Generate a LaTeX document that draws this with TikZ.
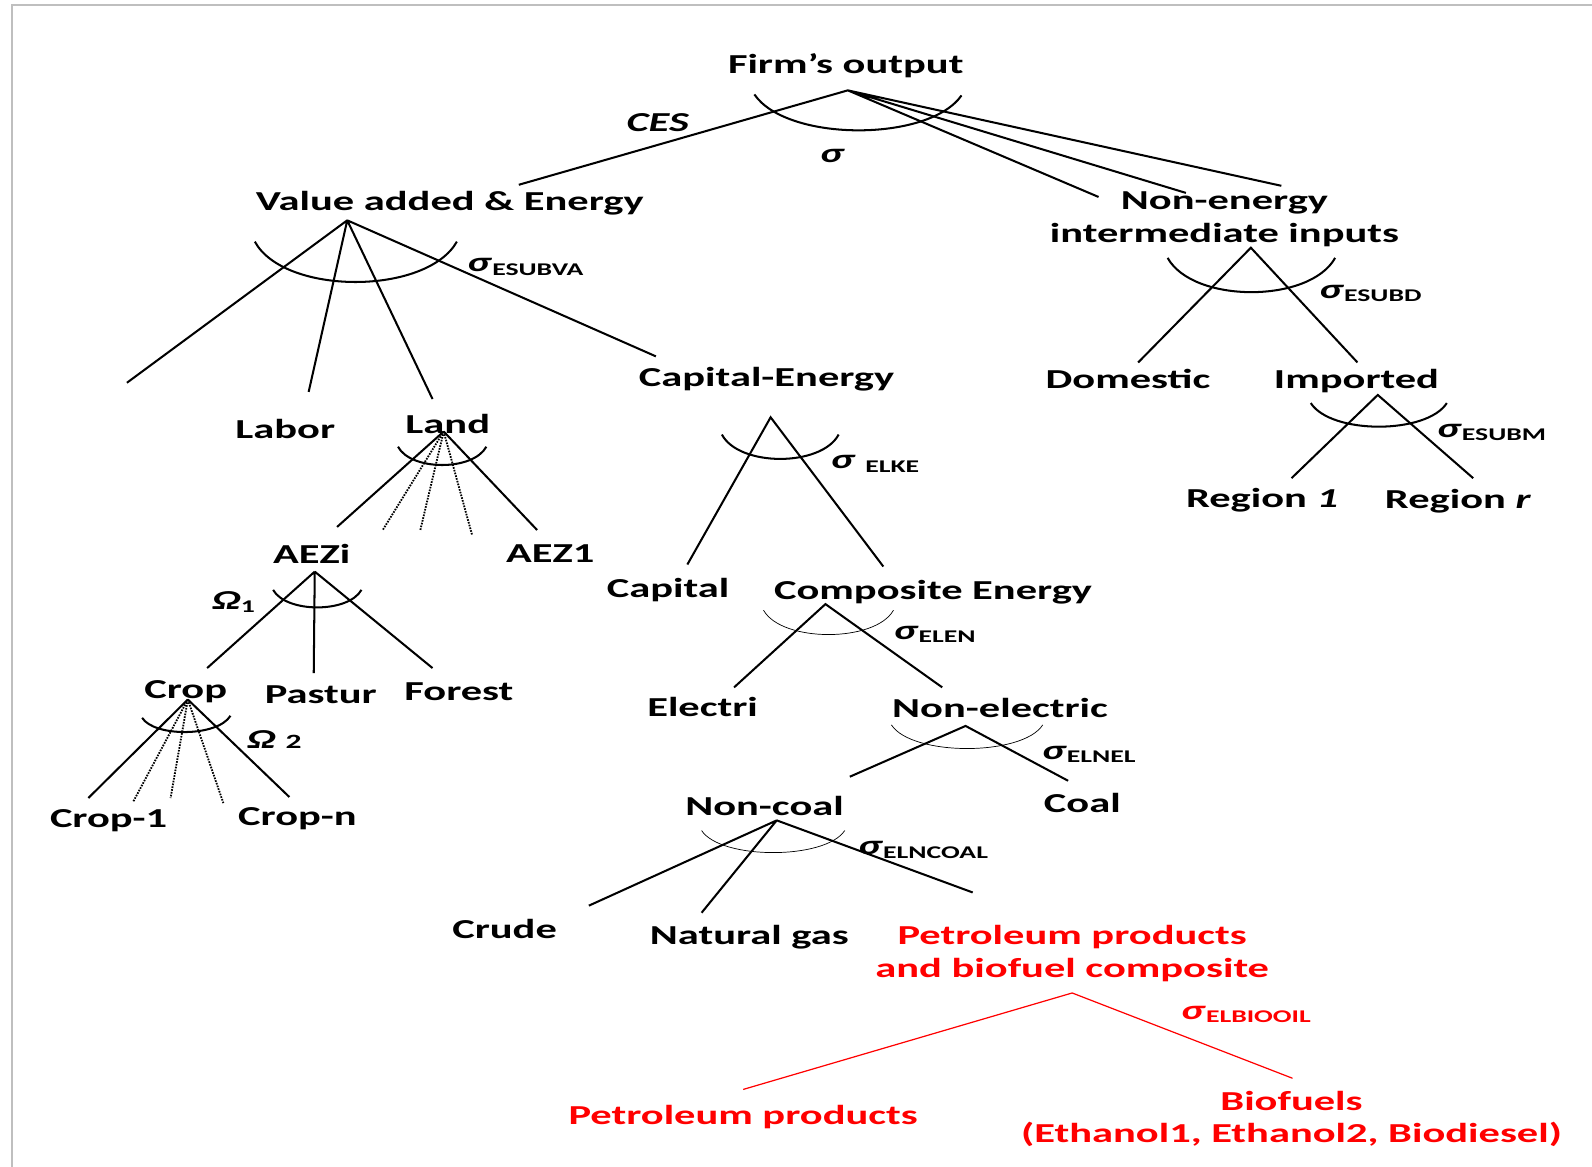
\documentclass[tikz,border=0pt]{standalone}
\usepackage{fontspec}
\setmainfont{Carlito}[FakeStretch=1.55]
\usetikzlibrary{positioning,calc}

\tikzset{
    lbl/.style={font=\bfseries\fontsize{13.5}{16}\selectfont, inner sep=0pt, align=center, yshift=-1pt},
    redlbl/.style={lbl, text=red},
    sublbl/.style={lbl, anchor=west},
    branch/.style={line width=1pt},
    dotbranch/.style={line width=0.9pt, dash pattern=on 0.8pt off 0.6pt},
    thinarc/.style={line width=0.35pt},
    redbranch/.style={line width=0.6pt, red},
}
\newcommand{\elsub}[1]{\raisebox{-0.12em}{\fontsize{8.8}{10}\selectfont #1}}
\newcommand{\elas}[1]{\textit{σ}\elsub{#1}}

\begin{document}
\begin{tikzpicture}[x=0.5pt,y=-0.5pt]
    \useasboundingbox (0,0) rectangle (1568,1149);
    \draw[line width=0.75pt, black!25] (12,1149) -- (12,5) -- (1568,5); % frame

    % Firm's output
    \node[lbl] (firm) at (833,63) {Firm’s output};
    \node[lbl] (ces) at (648,119) {\textit{CES}};
    \node[lbl] (sigtop) at (820,152) {\textit{σ}};
    \coordinate (firm-top) at (835,89);
    \coordinate (firm-1) at (511,182);
    \coordinate (firm-2) at (1082,194);
    \coordinate (firm-3) at (1168,190);
    \coordinate (firm-4) at (1262,183);
    \draw[branch] (firm-1) -- (firm-top) -- (firm-2) (firm-top) -- (firm-3) (firm-top) -- (firm-4);
    \draw[branch] (743,93) .. controls (775,140) and (915,140) .. (947,94);

    % Value added & Energy
    \node[lbl] (va) at (443,198) {Value added \& Energy};
    \node[sublbl] (sva) at (460,261) {\elas{ESUBVA}};
    \coordinate (va-top) at (342,217);
    \coordinate (va-1) at (125,377);
    \coordinate (va-2) at (304,386);
    \coordinate (va-3) at (426,393);
    \coordinate (va-4) at (646,351);
    \draw[branch] (va-top) -- (va-1) (va-top) -- (va-2) (va-top) -- (va-3) (va-top) -- (va-4);
    \draw[branch] (251,238) .. controls (280,291) and (420,291) .. (450,238);

    \node[lbl] (labor) at (281,421) {Labor};
    \node[lbl] (land) at (441,416) {Land};

    % Land
    \coordinate (land-top) at (437,425);
    \coordinate (land-1) at (332,519);
    \coordinate (land-2) at (377,522);
    \coordinate (land-3) at (414,522);
    \coordinate (land-4) at (465,527);
    \coordinate (land-5) at (529,522);
    \draw[branch] (land-top) -- (land-1) (land-top) -- (land-5);
    \draw[dotbranch] (land-top) -- (land-2) (land-top) -- (land-3) (land-top) -- (land-4);
    \draw[branch] (392,440) .. controls (405,464) and (466,464) .. (479,440);

    \node[lbl] (aezi) at (307,544) {AEZi};
    \node[lbl] (aez1) at (542,543) {AEZ1};

    % AEZi
    \node[lbl] (om1) at (230,591) {\textit{Ω}\elsub{1}};
    \coordinate (aez-top) at (310,563);
    \coordinate (aez-1) at (204,658);
    \coordinate (aez-2) at (309,663);
    \coordinate (aez-3) at (426,658);
    \draw[branch] (aez-top) -- (aez-1) (aez-top) -- (aez-2) (aez-top) -- (aez-3);
    \draw[branch] (269,581) .. controls (282,604) and (343,604) .. (356,581);

    \node[lbl] (crop) at (183,679) {Crop};
    \node[lbl] (pastur) at (316,682) {Pastur};
    \node[lbl] (forest) at (452,679) {Forest};

    % Crop
    \node[sublbl] (om2) at (243,726) {\textit{Ω} \fontsize{10}{12}\selectfont 2};
    \coordinate (crop-top) at (185,689);
    \coordinate (crop-1) at (87,786);
    \coordinate (crop-2) at (131,790);
    \coordinate (crop-3) at (168,786);
    \coordinate (crop-4) at (220,791);
    \coordinate (crop-5) at (285,785);
    \draw[branch] (crop-top) -- (crop-1) (crop-top) -- (crop-5);
    \draw[dotbranch] (crop-top) -- (crop-2) (crop-top) -- (crop-3) (crop-top) -- (crop-4);
    \draw[branch] (140,707) .. controls (152,726) and (214,726) .. (227,705);

    \node[lbl] (crop1) at (107,806) {Crop-1};
    \node[lbl] (cropn) at (293,804) {Crop-n};

    % Capital-Energy
    \node[lbl] (cape) at (755,371) {Capital-Energy};
    \node[sublbl] (selke) at (818,455) {\textit{σ} \elsub{ELKE}};
    \coordinate (cape-top) at (759,411);
    \coordinate (cape-1) at (677,556);
    \coordinate (cape-2) at (870,558);
    \draw[branch] (cape-1) -- (cape-top) -- (cape-2);
    \draw[branch] (711,428) .. controls (728,460) and (809,460) .. (826,428);

    \node[lbl] (capital) at (658,579) {Capital};
    \node[lbl] (compe) at (919,581) {Composite Energy};

    % Composite Energy
    \node[sublbl] (selen) at (880,623) {\elas{ELEN}};
    \coordinate (comp-top) at (813,595);
    \coordinate (comp-1) at (723,677);
    \coordinate (comp-2) at (928,677);
    \draw[branch] (comp-1) -- (comp-top) -- (comp-2);
    \draw[thinarc] (752,601) .. controls (770,633) and (862,633) .. (880,601);

    \node[lbl] (electri) at (692,694) {Electri};
    \node[lbl] (nonel) at (985,695) {Non-electric};

    % Non-electric
    \node[sublbl] (selnel) at (1026,741) {\elas{ELNEL}};
    \coordinate (nonel-top) at (951,715);
    \coordinate (nonel-1) at (837,765);
    \coordinate (nonel-2) at (1052,769);
    \draw[branch] (nonel-1) -- (nonel-top) -- (nonel-2);
    \draw[thinarc] (878,714) .. controls (898,745) and (1007,745) .. (1027,714);

    \node[lbl] (noncoal) at (753,792) {Non-coal};
    \node[lbl] (coal) at (1066,789) {Coal};

    % Non-coal
    \node[sublbl] (selncoal) at (845,835) {\elas{ELNCOAL}};
    \coordinate (nc-top) at (765,808);
    \coordinate (nc-1) at (580,892);
    \coordinate (nc-2) at (691,899);
    \coordinate (nc-3) at (958,879);
    \draw[branch] (nc-top) -- (nc-1) (nc-top) -- (nc-2) (nc-top) -- (nc-3);
    \draw[thinarc] (691,818) .. controls (710,847) and (813,847) .. (832,818);

    \node[lbl] (crude) at (497,913) {Crude};
    \node[lbl] (natgas) at (738,921) {Natural gas};
    \node[redlbl] (petbio) at (1056,937) {Petroleum products\\and biofuel composite};

    % Petroleum products and biofuel composite
    \node[sublbl, text=red] (selbio) at (1163,997) {\elas{ELBIOOIL}};
    \coordinate (pb-top) at (1056,978);
    \coordinate (pb-1) at (732,1073);
    \coordinate (pb-2) at (1273,1062);
    \draw[redbranch] (pb-1) -- (pb-top) -- (pb-2);

    \node[redlbl] (pet) at (732,1098) {Petroleum products};
    \node[redlbl] (bio) at (1272,1100) {Biofuels\\(Ethanol1, Ethanol2, Biodiesel)};

    % Non-energy intermediate inputs
    \node[lbl] (nonen) at (1206,214) {Non-energy\\intermediate inputs};
    \node[sublbl] (sesubd) at (1299,287) {\elas{ESUBD}};
    \coordinate (ne-top) at (1232,244);
    \coordinate (ne-1) at (1121,357);
    \coordinate (ne-2) at (1337,357);
    \draw[branch] (ne-1) -- (ne-top) -- (ne-2);
    \draw[branch] (1150,254) .. controls (1175,299) and (1290,299) .. (1315,254);

    \node[lbl] (dom) at (1111,371) {Domestic};
    \node[lbl] (imp) at (1336,373) {Imported};

    % Imported
    \node[sublbl] (sesubm) at (1415,424) {\elas{ESUBM}};
    \coordinate (imp-top) at (1357,389);
    \coordinate (imp-1) at (1272,471);
    \coordinate (imp-2) at (1451,471);
    \draw[branch] (imp-1) -- (imp-top) -- (imp-2);
    \draw[branch] (1291,397) .. controls (1311,428) and (1405,428) .. (1425,397);

    \node[lbl] (reg1) at (1243,491) {Region \textit{1}};
    \node[lbl] (regr) at (1436,492) {Region \textit{r}};
\end{tikzpicture}
\end{document}
